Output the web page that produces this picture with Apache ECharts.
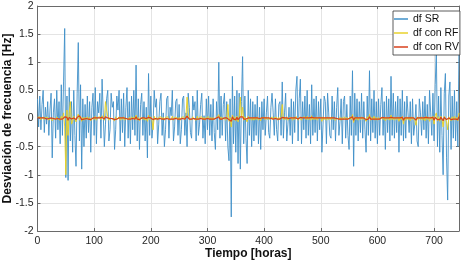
<!DOCTYPE html>
<html>
<head>
<meta charset="utf-8">
<script src="https://cdn.jsdelivr.net/npm/echarts@6/dist/echarts.min.js"></script>
<style>
  html, body { margin: 0; padding: 0; background: #fff; }
  #chart { width: 463px; height: 265px; }
</style>
</head>
<body>
<div id="chart"></div>
<script>
// one value every 2 hours, hour 0 .. 744
const stepHours = 2;

// df SR [Hz]
const dfSR = [
  0.35,-0.15,0.4,-0.2,0.25,0.5,-0.25,0.2,-0.1,0.3,-0.3,0.15,0.45,-0.7,0.1,0.35,-0.35,0.5,-0.2,0.3,-0.45,0.6,-0.3,0.65,1.6,
  -1.05,0.4,-1.1,0.55,-0.4,0.3,-0.6,0.5,-0.3,-0.85,0.45,1.35,-0.4,0.6,-0.9,0.35,-0.5,0.25,-0.35,0.4,-0.25,0.3,-0.6,0.2,0.45,
  -0.3,0.55,-0.45,0.3,0.1,0.45,-0.35,0.7,0.1,-0.5,-0.1,0.35,0.5,-0.4,-0.2,0.45,0.2,0.3,-0.55,-0.2,0.4,0.15,0.5,-0.4,0.35,
  -0.25,0.45,-0.5,0.2,0.55,-0.35,0.3,-0.45,0.4,-0.2,0.5,-0.3,0.95,-0.4,0.35,-0.55,0.25,0.45,-0.3,0.3,-0.4,0.2,-0.7,0.8,-0.3,
  0.4,-0.35,-0.1,0.5,0.2,0.35,-0.45,-0.1,0.3,0.45,-0.3,0.1,-0.5,-0.2,0.35,0.4,-0.35,0.2,0.05,0.5,-0.4,-0.15,0.3,0.35,-0.3,
  0.25,-0.45,-0.2,0.35,0.4,-0.3,0.1,-0.5,0.45,0.2,-0.25,-0.35,0.4,0.15,0.3,-0.4,0.5,-0.3,-0.1,0.25,0.45,-0.35,0.05,-0.45,0.35,
  -0.2,0.4,-0.3,0.25,-0.4,0.35,-0.25,-0.55,0.3,-0.2,1.0,-0.35,0.4,-0.3,0.25,0.45,-0.4,0.3,-0.5,-0.75,0.35,-1.75,0.75,-0.45,0.4,
  -0.6,0.5,-0.8,0.45,-0.9,0.3,1.1,-0.45,0.4,-0.35,-0.8,0.5,-0.3,0.35,-0.5,0.3,-0.4,0.25,-0.3,0.4,-0.45,0.2,-0.55,0.3,-0.2,
  0.35,-0.3,0.1,0.4,-0.25,-0.35,0.2,0.45,0.1,-0.3,0.35,-0.2,-0.4,0.25,0.3,-0.3,0.65,-0.35,0.1,0.45,-0.4,-0.1,0.2,-0.3,0.35,
  -0.45,0.3,-0.25,0.5,0.75,-0.4,0.35,0.7,-0.45,0.3,-0.2,0.4,-0.35,0.5,-0.3,0.25,-0.45,0.6,-0.3,0.35,-0.25,0.4,-0.4,0.3,-0.2,
  0.35,-0.6,-0.1,0.4,0.3,-0.45,0.45,0.1,-0.3,-0.35,0.4,-0.2,0.3,-0.4,0.2,0.55,-0.3,-0.05,0.35,-0.45,0.3,0.4,-0.35,0.25,-0.3,
  -0.55,0.4,-0.3,0.85,-0.85,0.45,-0.3,0.35,-0.4,0.3,-0.25,0.45,-0.35,0.3,-0.2,-0.6,0.4,-0.3,0.85,-0.4,0.35,-0.25,0.5,-0.35,0.3,
  -0.45,0.35,-0.3,0.25,0.55,-0.3,0.3,-0.55,0.4,-0.25,0.35,-0.4,0.75,-0.3,0.45,-0.35,0.3,-0.25,0.4,-0.6,0.35,-0.3,0.5,-0.4,0.3,
  -0.35,0.4,0.1,-0.25,0.3,-0.45,0.35,-0.3,-0.1,0.25,-0.4,-0.5,0.35,0.1,-0.3,0.3,-0.2,0.4,-0.35,0.25,-0.45,0.5,0.1,-0.3,0.45,
  -0.4,0.6,1.2,-0.5,0.4,-0.6,0.55,-0.3,-1.0,0.45,0.8,-0.7,-1.45,0.4,0.65,-0.55,0.4,-0.35,0.5,-0.4,0.3,-0.5,1.3
];

// df con RF [Hz]
const dfRF = [
  0.02,-0.01,0.03,-0.02,0.01,0.03,-0.02,0.02,-0.01,0.02,-0.03,0.01,0.03,-0.04,0.01,0.02,-0.02,0.03,-0.01,0.02,-0.03,0.04,-0.02,0.1,-0.15,
  -1.0,0.15,-0.3,0.1,0.3,-0.1,-0.05,0.04,-0.02,-0.06,0.03,0.08,-0.03,0.04,-0.05,0.02,-0.03,0.02,-0.02,0.03,-0.02,0.02,-0.04,0.01,0.03,
  -0.02,0.04,-0.03,0.02,-0.01,0.03,-0.02,0.05,0.01,-0.03,0.3,0.15,0.03,-0.03,0.01,0.03,-0.01,0.02,-0.04,0.03,-0.02,0.01,0.03,-0.03,0.02,
  -0.02,0.03,-0.03,0.01,0.04,-0.02,0.02,-0.03,0.03,-0.01,0.03,-0.02,0.06,-0.03,0.02,-0.04,0.02,0.03,-0.02,0.02,-0.03,0.01,-0.05,0.06,-0.02,
  0.03,-0.02,-0.2,0.04,-0.02,0.02,-0.03,0.02,-0.01,0.03,-0.02,0.02,-0.03,0.02,-0.01,0.03,-0.02,0.01,-0.02,0.04,-0.03,0.02,-0.01,0.02,-0.02,
  0.02,-0.03,0.02,-0.01,0.03,-0.02,0.02,0.38,0.1,-0.02,0.01,-0.02,0.03,-0.01,0.02,-0.03,0.04,-0.02,0.02,-0.01,0.03,-0.02,0.02,-0.03,0.02,
  -0.01,0.03,-0.02,0.02,-0.03,0.02,-0.02,-0.04,0.02,-0.01,0.07,-0.02,0.03,-0.02,0.02,0.03,-0.03,0.02,0.25,-0.05,0.02,-0.15,0.06,-0.03,0.03,
  -0.04,0.04,-0.06,0.03,0.38,0.02,0.2,-0.03,0.03,-0.02,-0.06,0.04,-0.02,0.02,-0.03,0.02,-0.03,0.02,-0.02,0.03,-0.03,0.01,-0.04,0.02,-0.01,
  0.02,-0.02,0.03,-0.02,0.02,-0.02,0.01,0.03,-0.02,0.02,-0.01,0.02,-0.03,0.02,-0.02,0.03,0.25,-0.02,0.02,-0.02,0.03,-0.03,0.01,-0.02,0.02,
  -0.03,0.02,-0.02,0.04,0.06,-0.03,0.02,0.05,-0.03,0.02,-0.01,0.03,-0.02,0.04,-0.02,0.02,-0.03,0.05,-0.02,0.02,-0.02,0.03,-0.03,0.02,-0.01,
  0.02,-0.05,0.03,-0.02,0.02,-0.03,0.03,-0.02,0.02,-0.02,0.03,-0.01,0.02,-0.03,0.01,0.04,-0.02,0.02,-0.03,0.02,-0.02,0.03,-0.02,0.02,-0.02,
  -0.04,0.03,-0.02,0.07,-0.07,0.03,-0.02,0.02,-0.03,0.02,-0.02,0.03,-0.02,0.02,-0.01,-0.05,0.03,-0.02,0.07,-0.03,0.02,-0.02,0.04,-0.03,0.02,
  -0.03,0.02,-0.02,0.02,0.04,-0.02,0.02,-0.04,0.03,-0.02,0.02,-0.03,0.06,-0.02,0.03,-0.03,0.02,-0.02,0.03,-0.05,0.02,-0.02,0.04,-0.1,0.02,
  -0.03,0.03,-0.02,0.02,-0.04,0.03,-0.02,0.02,-0.03,-0.12,0.03,-0.02,0.02,-0.02,0.03,-0.03,0.02,-0.04,0.04,-0.02,0.03,-0.05,0.03,-0.02,0.04,
  -0.1,0.05,0.1,-0.04,0.03,-0.05,0.04,-0.02,-0.15,0.04,0.06,-0.06,-0.2,0.03,0.05,-0.04,0.03,-0.03,0.04,-0.03,0.02,-0.04,0.1
];

// df con RV [Hz]
const dfRV = [
  0.01,-0.01,0.01,0,0.01,-0.01,0.01,0,-0.01,0.01,0,-0.01,0.01,-0.02,0,0.01,-0.01,0.01,0,0.01,-0.01,0.02,-0.01,0.02,0.03,
  0.06,0.02,-0.03,0.02,0.03,-0.01,-0.02,0.01,0,-0.02,0.02,0.03,0.05,0.02,-0.02,0.01,-0.01,0.01,0,0.01,-0.01,0.01,-0.02,0,0.01,
  -0.01,0.01,-0.01,0.01,0,0.01,-0.01,0.02,0,-0.01,0.03,0.02,0.01,-0.01,0,0.01,0,0.01,-0.02,0.01,-0.01,0,0.01,-0.01,0.01,
  -0.01,0.01,-0.01,0,0.01,-0.01,0.01,-0.01,0.01,0,0.01,-0.01,0.03,-0.01,0.01,-0.02,0.01,0.01,-0.01,0.01,-0.01,0,-0.02,0.02,-0.01,
  0.01,-0.01,-0.02,0.01,0,0.01,-0.01,0.01,0,0.01,-0.01,0.01,-0.01,0.01,0,0.01,-0.01,0,-0.01,0.01,-0.01,0.01,0,0.01,-0.01,
  0.01,-0.01,0.01,0,0.01,-0.01,0.01,0.04,0.02,-0.01,0,-0.01,0.01,0,0.01,-0.01,0.01,-0.01,0.01,0,0.01,-0.01,0.01,-0.01,0.01,
  0,0.01,-0.01,0.01,-0.01,0.01,-0.01,-0.02,0.01,0,0.03,-0.01,0.01,-0.01,0.01,0.01,-0.01,0.01,0.03,-0.02,0.01,-0.05,0.03,-0.01,0.01,
  -0.02,0.02,-0.02,0.01,0.03,0.01,0.03,-0.01,0.01,-0.01,-0.02,0.01,-0.01,0.01,-0.01,0.01,-0.01,0.01,-0.01,0.01,-0.01,0,-0.02,0.01,0,
  0.01,-0.01,0.01,-0.01,0.01,-0.01,0,0.01,-0.01,0.01,0,0.01,-0.01,0.01,-0.01,0.01,0.02,-0.01,0.01,-0.01,0.01,-0.01,0,-0.01,0.01,
  -0.01,0.01,-0.01,0.01,0.02,-0.01,0.01,0.02,-0.01,0.01,0,0.01,-0.01,0.01,-0.01,0.01,-0.01,0.02,-0.01,0.01,-0.01,0.01,-0.01,0.01,0,
  0.01,-0.02,0.01,-0.01,0.01,-0.01,0.01,-0.01,0.01,-0.01,0.01,0,0.01,-0.01,0,0.01,-0.01,0.01,-0.01,0.01,-0.01,0.01,-0.01,0.01,-0.01,
  -0.02,0.01,-0.01,0.03,-0.03,0.01,-0.01,0.01,-0.01,0.01,-0.01,0.01,-0.01,0.01,0,-0.02,0.01,-0.01,0.03,-0.01,0.01,-0.01,0.02,-0.01,0.01,
  -0.01,0.01,-0.01,0.01,0.02,-0.01,0.01,-0.02,0.01,-0.01,0.01,-0.01,0.02,-0.01,0.01,-0.01,0.01,-0.01,0.01,-0.02,0.01,-0.01,0.02,-0.03,0.01,
  -0.01,0.01,-0.01,0.01,-0.02,0.01,-0.01,0.01,-0.01,-0.03,0.01,-0.01,0.01,-0.01,0.01,-0.01,0.01,-0.02,0.02,-0.01,0.01,-0.02,0.01,-0.01,0.02,
  -0.03,0.02,0.03,-0.02,0.01,-0.02,0.02,-0.01,-0.04,0.02,0.02,-0.02,-0.05,0.01,0.02,-0.02,0.01,-0.01,0.02,-0.01,0.01,-0.02,0.03
];

const seriesNames = ["df SR", "df con RF", "df con RV"];
const seriesColors = ["#3f90c8", "#e9d22c", "#d8401c"];
const seriesWidths = [0.9, 1, 1.2];

const toPairs = (vals) => vals.map((v, i) => [i * stepHours, v]);

const font = "Liberation Sans, Arial, Helvetica, sans-serif";
const axisColor = "#6a6a6a";
const labelColor = "#262626";

const chart = echarts.init(document.getElementById("chart"), null, { renderer: "canvas" });

const option = {
  animation: false,
  backgroundColor: "#fff",
  grid: {
    left: 37.5,
    right: 4,
    top: 6,
    bottom: 34,
    containLabel: false,
    outerBoundsMode: "none",
  },
  legend: {
    orient: "vertical",
    left: 393,
    top: 11,
    padding: [2, 1, 2, 1],
    itemGap: 2,
    itemWidth: 14,
    itemHeight: 1.5,
    icon: "rect",
    backgroundColor: "#fff",
    borderColor: "#333",
    borderWidth: 0.8,
    borderRadius: 0,
    textStyle: { fontFamily: font, fontSize: 10.5, color: "#111", lineHeight: 12 },
    data: seriesNames,
  },
  xAxis: [
    {
      type: "value",
      min: 0,
      max: 744,
      interval: 100,
      name: "Tiempo [horas]",
      nameLocation: "middle",
      nameGap: 17,
      nameMoveOverlap: false,
      nameTextStyle: { fontFamily: font, fontSize: 12, fontWeight: "bold", color: "#111" },
      axisLine: { show: true, onZero: false, lineStyle: { color: axisColor, width: 1 } },
      axisTick: { show: true, inside: true, length: 3, lineStyle: { color: axisColor } },
      axisLabel: {
        fontFamily: font, fontSize: 10.5, color: labelColor, margin: 5,
        showMaxLabel: false,
      },
      splitLine: { show: true, lineStyle: { color: "#e4e4e4", width: 1 } },
    },
    {
      type: "value",
      position: "top",
      min: 0,
      max: 744,
      interval: 100,
      axisLine: { show: true, onZero: false, lineStyle: { color: axisColor, width: 1 } },
      axisTick: { show: true, inside: true, length: 3, lineStyle: { color: axisColor } },
      axisLabel: { show: false },
      splitLine: { show: false },
    },
  ],
  yAxis: [
    {
      type: "value",
      min: -2,
      max: 2,
      interval: 0.5,
      name: "Desviación de frecuencia [Hz]",
      nameLocation: "middle",
      nameGap: 24,
      nameMoveOverlap: false,
      nameTextStyle: { fontFamily: font, fontSize: 12, fontWeight: "bold", color: "#111" },
      axisLine: { show: true, onZero: false, lineStyle: { color: axisColor, width: 1 } },
      axisTick: { show: true, inside: true, length: 3, lineStyle: { color: axisColor } },
      axisLabel: { fontFamily: font, fontSize: 10.5, color: labelColor, margin: 4 },
      splitLine: { show: true, lineStyle: { color: "#e4e4e4", width: 1 } },
    },
    {
      type: "value",
      position: "right",
      min: -2,
      max: 2,
      interval: 0.5,
      axisLine: { show: true, onZero: false, lineStyle: { color: axisColor, width: 1 } },
      axisTick: { show: true, inside: true, length: 3, lineStyle: { color: axisColor } },
      axisLabel: { show: false },
      splitLine: { show: false },
    },
  ],
  series: [dfSR, dfRF, dfRV].map((vals, k) => ({
    name: seriesNames[k],
    type: "line",
    xAxisIndex: 0,
    yAxisIndex: 0,
    data: toPairs(vals),
    showSymbol: false,
    symbol: "none",
    color: seriesColors[k],
    lineStyle: { width: seriesWidths[k], color: seriesColors[k] },
    z: 2 + k,
  })),
};

chart.setOption(option);
</script>
</body>
</html>
